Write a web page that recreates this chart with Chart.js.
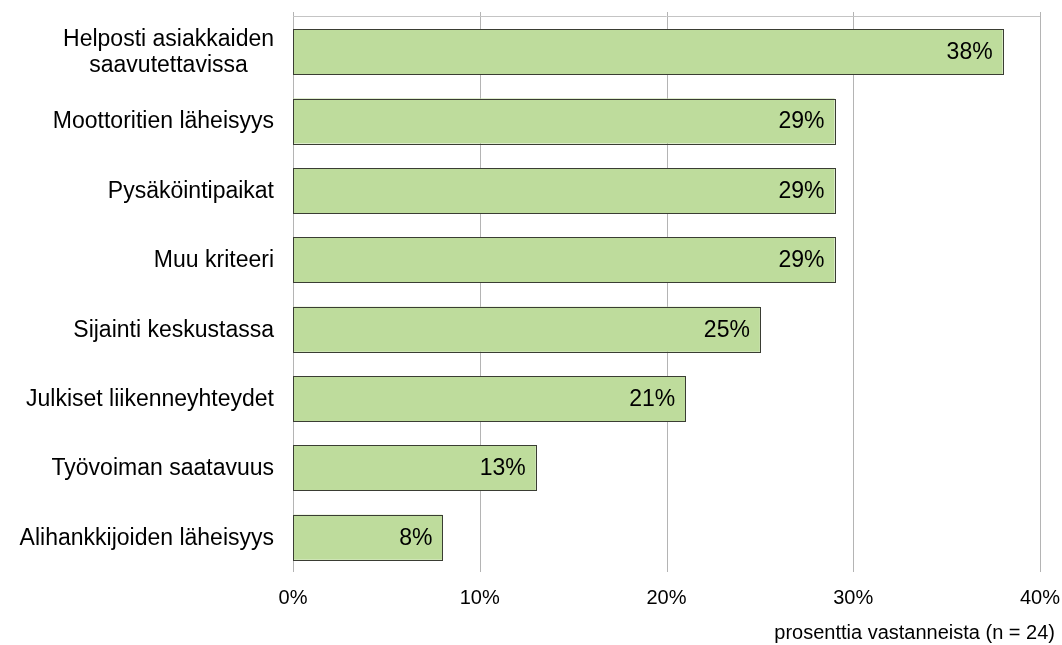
<!DOCTYPE html>
<html>
<head>
<meta charset="utf-8">
<script src="https://cdn.jsdelivr.net/npm/chart.js@4/dist/chart.umd.min.js"></script>
<style>
    html, body { margin: 0; padding: 0; background: #fff; }
    #wrap { width: 1062px; height: 645px; }
</style>
</head>
<body>
<div id="wrap"><canvas id="myChart"></canvas></div>
<script>
(function () {
    'use strict';

    var categories = [
        ['Helposti asiakkaiden', 'saavutettavissa'],
        'Moottoritien läheisyys',
        'Pysäköintipaikat',
        'Muu kriteeri',
        'Sijainti keskustassa',
        'Julkiset liikenneyhteydet',
        'Työvoiman saatavuus',
        'Alihankkijoiden läheisyys'
    ];
    var shares = [38, 29, 29, 29, 25, 21, 13, 8];
    var tickValues = [0, 10, 20, 30, 40];
    var axisTitle = 'prosenttia vastanneista (n = 24)';

    var FONT = '"Liberation Sans", Arial, Helvetica, sans-serif';

    // grid, top frame line, bar outlines, category labels, value labels, axis title
    var decorations = {
        id: 'decorations',
        beforeDatasetsDraw: function (chart) {
            var ctx = chart.ctx;
            var area = chart.chartArea;
            var x = chart.scales.x;
            ctx.save();
            ctx.lineWidth = 1;
            ctx.strokeStyle = '#b4b4b4';
            tickValues.forEach(function (v) {
                var px = Math.round(x.getPixelForValue(v)) + 0.5;
                ctx.beginPath();
                ctx.moveTo(px, area.top - 5);
                ctx.lineTo(px, area.bottom);
                ctx.stroke();
            });
            ctx.strokeStyle = '#c4c4c4';
            ctx.beginPath();
            ctx.moveTo(area.left, area.top - 0.5);
            ctx.lineTo(area.right, area.top - 0.5);
            ctx.stroke();
            ctx.restore();
        },
        afterDatasetsDraw: function (chart) {
            var ctx = chart.ctx;
            var y = chart.scales.y;
            var meta = chart.getDatasetMeta(0);
            ctx.save();

            // crisp outlines on the bars
            ctx.strokeStyle = '#3a3d33';
            ctx.lineWidth = 1;
            meta.data.forEach(function (bar) {
                var l = Math.round(bar.base) + 0.5;
                var r = Math.round(bar.x) + 0.5;
                var t = Math.round(bar.y - bar.height / 2) + 0.5;
                var b = Math.round(bar.y + bar.height / 2) + 0.5;
                ctx.strokeRect(l, t, r - l, b - t);
            });

            ctx.fillStyle = '#000';
            ctx.textBaseline = 'middle';

            // category labels, block right aligned, lines centered
            ctx.font = '23px ' + FONT;
            ctx.textAlign = 'center';
            categories.forEach(function (label, i) {
                var lines = Array.isArray(label) ? label : [label];
                var cy = y.getPixelForValue(i) + 1;
                var w = 0;
                lines.forEach(function (l) { w = Math.max(w, ctx.measureText(l).width); });
                var cx = chart.chartArea.left - 19 - w / 2;
                var lh = 26;
                lines.forEach(function (l, j) {
                    ctx.fillText(l, cx, cy + (j - (lines.length - 1) / 2) * lh);
                });
            });

            // value labels inside bar end
            ctx.textAlign = 'right';
            meta.data.forEach(function (bar, i) {
                ctx.fillText(shares[i] + '%', bar.x - 10, bar.y + 1);
            });

            ctx.font = '20px ' + FONT;
            ctx.fillText(axisTitle, 1055, 633);
            ctx.restore();
        }
    };

    new Chart(document.getElementById('myChart'), {
        type: 'bar',
        data: {
            labels: categories,
            datasets: [{
                data: shares,
                backgroundColor: '#bedc9c',
                borderWidth: 0,
                barPercentage: 0.65,
                categoryPercentage: 1
            }]
        },
        options: {
            indexAxis: 'y',
            responsive: true,
            maintainAspectRatio: false,
            animation: false,
            layout: { padding: { top: 17, right: 22, bottom: 0, left: 0 } },
            plugins: {
                legend: { display: false },
                tooltip: { enabled: false }
            },
            scales: {
                x: {
                    min: 0,
                    max: 40,
                    afterBuildTicks: function (scale) {
                        scale.ticks = tickValues.map(function (v) { return { value: v }; });
                    },
                    afterFit: function (scale) {
                        scale.height = 73;
                        scale.paddingLeft = 0;
                        scale.paddingRight = 0;
                    },
                    grid: { display: false },
                    border: { display: false },
                    ticks: {
                        padding: 6,
                        color: '#000',
                        font: { family: FONT, size: 20 },
                        maxRotation: 0,
                        callback: function (v) { return v + '%'; }
                    }
                },
                y: {
                    afterFit: function (scale) { scale.width = 293; },
                    grid: { display: false },
                    border: { display: false },
                    ticks: { display: false }
                }
            }
        },
        plugins: [decorations]
    });
})();
</script>
</body>
</html>
